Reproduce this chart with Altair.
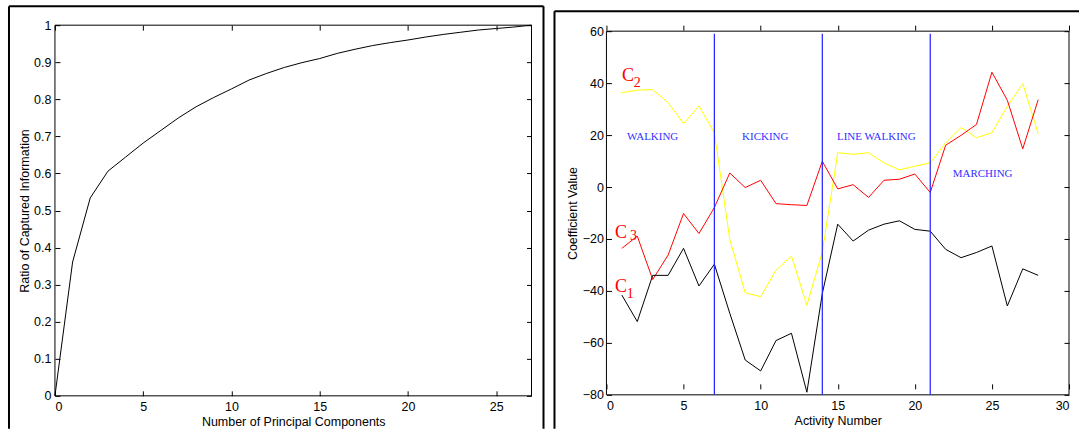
import altair as alt
import pandas as pd

# ---------------- data: left panel ----------------
n_components = list(range(28))
captured_ratio = [0.0, 0.361, 0.534, 0.606, 0.644, 0.682, 0.716, 0.750, 0.780, 0.805,
                  0.828, 0.852, 0.870, 0.886, 0.899, 0.910, 0.924, 0.935, 0.945, 0.953,
                  0.960, 0.968, 0.975, 0.981, 0.987, 0.991, 0.995, 1.0]
left_x_ticks = [0, 5, 10, 15, 20, 25]
left_y_ticks = [0.0, 0.1, 0.2, 0.3, 0.4, 0.5, 0.6, 0.7, 0.8, 0.9, 1.0]

# ---------------- data: right panel ----------------
activity = list(range(1, 29))
c1_values = [-41.6, -51.8, -34.0, -34.0, -23.6, -38.1, -29.7, -48.6, -66.6, -70.8,
             -59.1, -56.3, -79.0, -41.0, -14.3, -20.8, -16.6, -14.3, -13.0, -16.3,
             -17.0, -24.0, -27.2, -25.2, -22.7, -45.8, -31.5, -34.0]
c2_values = [36.3, 37.3, 37.5, 32.5, 24.4, 31.2, 20.8, -20.2, -40.7, -42.2,
             -32.0, -26.6, -45.5, -25.0, 13.2, 12.6, 13.2, 9.3, 6.6, 8.0,
             9.3, 17.0, 22.9, 19.0, 20.9, 31.1, 39.8, 20.5]
c3_values = [-23.6, -18.9, -35.6, -26.2, -10.2, -17.9, -7.9, 5.4, -0.2, 2.6,
             -6.4, -6.8, -7.1, 9.9, -0.7, 0.9, -4.0, 2.6, 3.0, 5.0,
             -2.1, 16.1, 19.9, 24.1, 44.2, 33.4, 14.7, 33.6]
right_x_ticks = [0, 5, 10, 15, 20, 25, 30]
right_y_ticks = [-80, -60, -40, -20, 0, 20, 40, 60]
boundaries = [7, 14, 21]
boundary_top = 59
boundary_bottom = -80
activity_names = ["WALKING", "KICKING", "LINE WALKING", "MARCHING"]
activity_name_x = [3.0, 10.3, 17.5, 24.4]
activity_name_y = [19.1, 19.1, 19.1, 4.9]
series_letter = ["C", "C", "C"]
series_sub = ["2", "3", "1"]
letter_x = [1.4, 0.94, 0.94]
letter_y = [42.6, -17.8, -38.4]
sub_x = [2.0, 1.75, 1.54]
sub_y = [40.0, -18.9, -41.2]

SANS = "Liberation Sans"
SERIF = "Liberation Serif"

LW, LH = 477, 371
RW, RH = 463, 370
R_TOP = 6
TICK = 5
FS = 12.5

one = pd.DataFrame({"k": [0]})


def rule_px(x, x2, y, y2, w=2):
    return alt.Chart(one).mark_rule(color="black", strokeWidth=w).encode(
        x=alt.value(x), x2=alt.value(x2), y=alt.value(y), y2=alt.value(y2))


def make_axis(values, title, lpad, tpad, span, fmt=None):
    # grid lines dashed so that only short inward ticks remain at both box edges
    kw = dict(values=values, title=title, ticks=False, domain=False,
              grid=True, gridColor="black", gridOpacity=1, gridWidth=1,
              gridDash=[TICK, span - 2 * TICK, TICK, 2000],
              labelPadding=lpad, titlePadding=tpad, labelFont=SANS, titleFont=SANS,
              labelFontSize=FS, titleFontSize=FS, labelColor="black", titleColor="black",
              titleFontWeight="normal")
    if fmt:
        kw["format"] = fmt
    return alt.Axis(**kw)


# ---------------- left chart ----------------
xs_l = alt.Scale(domain=[0, 27], nice=False, zero=False)
ys_l = alt.Scale(domain=[0, 1], nice=False, zero=False)
ax_lx = make_axis(left_x_ticks, "Number of Principal Components", 5, 2, LH)
ax_ly = make_axis(left_y_ticks, "Ratio of Captured Information", 4, 2, LW, "~g")

left_df = pd.DataFrame({"n": n_components, "r": captured_ratio})
left_line = alt.Chart(left_df).mark_line(color="black", strokeWidth=1).encode(
    x=alt.X("n:Q", scale=xs_l, axis=ax_lx),
    y=alt.Y("r:Q", scale=ys_l, axis=ax_ly),
)
left_box = alt.Chart(pd.DataFrame({"x0": [0], "x1": [27], "y0": [0], "y1": [1]})).mark_rect(
    fillOpacity=0, stroke="black", strokeWidth=1).encode(
    x=alt.X("x0:Q", scale=xs_l, axis=ax_lx), x2="x1",
    y=alt.Y("y0:Q", scale=ys_l, axis=ax_ly), y2="y1")

left = alt.layer(
    left_line, left_box,
    rule_px(-46, -46, -19, 404), rule_px(-46, 489, -19, -19), rule_px(489, 489, -19, 404),
).properties(width=LW, height=LH)

# ---------------- right chart ----------------
xs_r = alt.Scale(domain=[0, 30], nice=False, zero=False)
ys_r = alt.Scale(domain=[-80, 60], nice=False, zero=False, range=[RH, R_TOP])
ax_rx = make_axis(right_x_ticks, "Activity Number", 5, 2, RH - R_TOP)
ax_ry = make_axis(right_y_ticks, "Coefficient Value", 3, 3, RW)


def X(field):
    return alt.X(field, scale=xs_r, axis=ax_rx)


def Y(field):
    return alt.Y(field, scale=ys_r, axis=ax_ry)


right_df = pd.DataFrame({"a": activity, "c1": c1_values, "c2": c2_values, "c3": c3_values})


def series(col, color):
    return alt.Chart(right_df).mark_line(color=color, strokeWidth=1).encode(
        x=X("a:Q"), y=Y(f"{col}:Q"))


r_box = alt.Chart(pd.DataFrame({"x0": [0], "x1": [30], "y0": [-80], "y1": [60]})).mark_rect(
    fillOpacity=0, stroke="black", strokeWidth=1).encode(
    x=X("x0:Q"), x2="x1", y=Y("y0:Q"), y2="y1")

bdf = pd.DataFrame({"b": boundaries, "top": [boundary_top] * 3, "bot": [boundary_bottom] * 3})
blines = alt.Chart(bdf).mark_rule(color="#1f1fff", strokeWidth=1.2).encode(
    x=X("b:Q"), y=Y("top:Q"), y2="bot")

names_df = pd.DataFrame({"name": activity_names, "x": activity_name_x, "y": activity_name_y})
names = alt.Chart(names_df).mark_text(font=SERIF, fontSize=11, color="#3030ff",
                                      align="center", baseline="middle").encode(
    x=X("x:Q"), y=Y("y:Q"), text="name:N")

let_df = pd.DataFrame({"t": series_letter, "x": letter_x, "y": letter_y})
sub_df = pd.DataFrame({"t": series_sub, "x": sub_x, "y": sub_y})
letters = alt.Chart(let_df).mark_text(font=SERIF, fontSize=18, color="red",
                                      align="center", baseline="middle").encode(
    x=X("x:Q"), y=Y("y:Q"), text="t:N")
subs = alt.Chart(sub_df).mark_text(font=SERIF, fontSize=14, color="red",
                                   align="center", baseline="middle").encode(
    x=X("x:Q"), y=Y("y:Q"), text="t:N")

right = alt.layer(
    series("c2", "#ffff00"), series("c3", "#ff0000"), series("c1", "black"),
    r_box, blines, names, letters, subs,
    rule_px(-52, -52, -14, 404), rule_px(-52, 473, -14, -14),
).properties(width=RW, height=RH)

chart = alt.hconcat(left, right, spacing=75, bounds="flush").properties(
    padding={"left": 7, "top": 4, "right": 0, "bottom": 0},
    background="white",
).configure_view(stroke="transparent")

chart.save("out.html", embed_options={"renderer": "svg", "actions": False})
